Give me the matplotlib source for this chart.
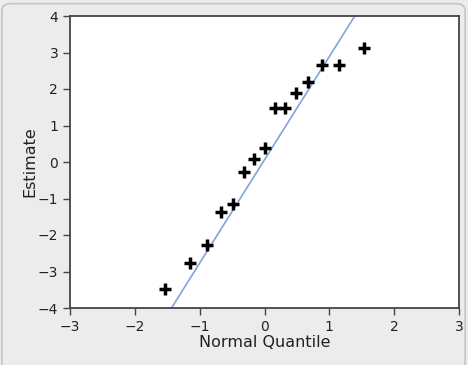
import matplotlib
matplotlib.use("Agg")
import matplotlib.pyplot as plt
from matplotlib.patches import FancyBboxPatch

# normal quantile vs estimate
quantile = [-1.53, -1.15, -0.89, -0.67, -0.49, -0.32, -0.16, 0.0,
            0.16, 0.32, 0.49, 0.67, 0.89, 1.15, 1.53]
estimate = [-3.48, -2.77, -2.27, -1.37, -1.15, -0.27, 0.08, 0.38,
            1.48, 1.48, 1.89, 2.19, 2.66, 2.66, 3.12]

# reference line
line_x = [-3, 3]
line_slope = 2.83
line_icpt = 0.06

fig = plt.figure(figsize=(4.68, 3.65), dpi=100, facecolor="#ececec")
# rounded panel border, kept behind the axes
fig.patches.append(FancyBboxPatch((0.004, -0.02), 0.99, 1.01, boxstyle="round,pad=0,rounding_size=0.02",
                                  transform=fig.transFigure, fc="#ececec", ec="#c4c4c4", lw=1.2,
                                  zorder=-5))
ax = fig.add_axes([70 / 468, 1 - 308 / 365, 389 / 468, 292 / 365])
ax.set_facecolor("white")

ax.plot(line_x, [line_slope * x + line_icpt for x in line_x], color="#7fa4e0", lw=1.2)
ax.plot(quantile, estimate, "+", color="black", ms=9, mew=2.5, linestyle="none")

ax.set_xlim(-3, 3)
ax.set_ylim(-4, 4)
ax.set_xticks(range(-3, 4))
ax.set_yticks(range(-4, 5))
for s in ax.spines.values():
    s.set_color("#444444")
    s.set_linewidth(1.3)
ax.tick_params(direction="out", length=5, width=1, colors="#444444", labelcolor="#222222", labelsize=10)
ax.set_xlabel("Normal Quantile", fontsize=11.5, color="#222222", labelpad=1)
ax.set_ylabel("Estimate", fontsize=11.5, color="#222222", labelpad=0)

fig.savefig("out.png", dpi=100, facecolor=fig.get_facecolor())
